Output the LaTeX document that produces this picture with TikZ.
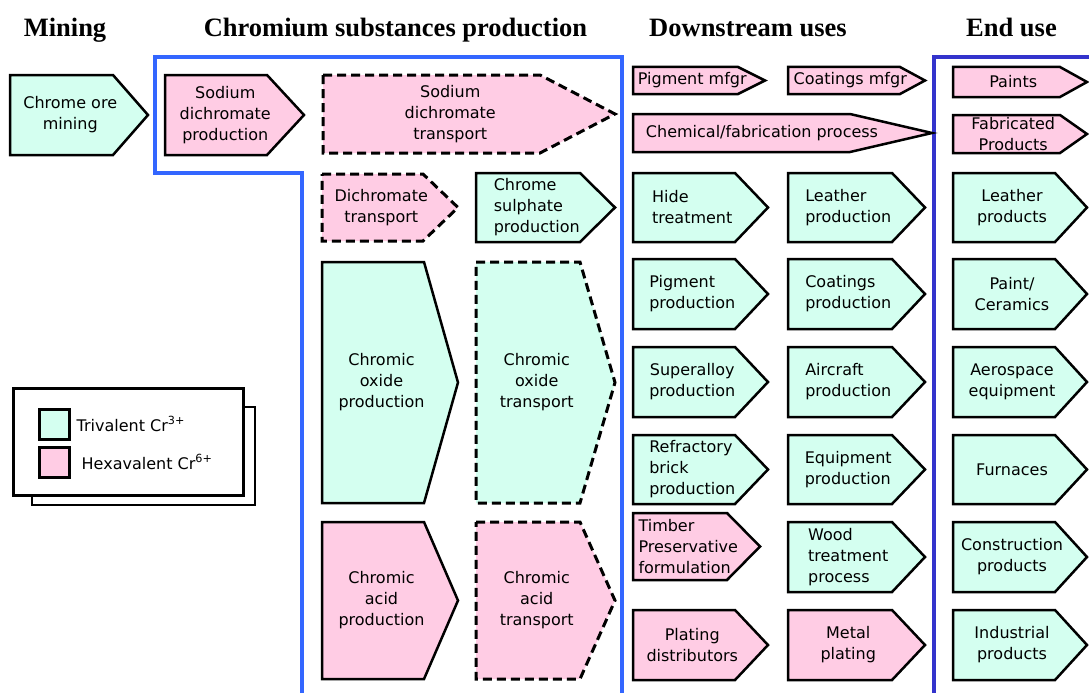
\documentclass[tikz,border=0pt]{standalone}
\usepackage{fontspec}
\setmainfont{Liberation Serif}
\newfontfamily\boxfont{DejaVu Sans}
\usepackage{tikz}
\usetikzlibrary{positioning}
\definecolor{CrTri}{RGB}{212,255,240}
\definecolor{CrHex}{RGB}{255,204,228}
\definecolor{CrBlue}{RGB}{51,102,255}
\definecolor{CrIndigo}{RGB}{51,51,204}

\begin{document}
\begin{tikzpicture}[
    x=1pt,y=-1pt,
    tri/.style={draw=black, fill=CrTri, line width=2.5pt},
    hexa/.style={draw=black, fill=CrHex, line width=2.5pt},
    trid/.style={tri, dash pattern=on 9pt off 5pt, line width=3pt},
    hexd/.style={hexa, dash pattern=on 9pt off 5pt, line width=3pt},
    lbl/.style={font=\boxfont\fontsize{16}{21}\selectfont, inner sep=0pt},
    head/.style={font=\fontsize{26.5}{30}\selectfont\bfseries, anchor=base, inner sep=0pt},
    frame/.style={line width=3.4pt}
  ]
    \useasboundingbox (0,0) rectangle (1089,693);
    \node[head] (hmine) at (65,37) {Mining};
    \node[head] (hchrom) at (395.5,37) {Chromium substances production};
    \node[head] (hdown) at (748,37) {Downstream uses};
    \node[head] (hend) at (1011.5,37) {End use};
    \draw[frame, CrBlue] (302,693) -- (302,173) -- (155,173) -- (155,57) -- (622,57) -- (622,693);
    \draw[frame, CrIndigo] (934,693) -- (934,57) -- (1089,57);
    \foreach \nm/\lx/\ty/\rx/\px/\by/\st/\al/\lab in {
      mine/10/75/113/148/155/tri/center/{Chrome ore\\mining},
      sdprod/165/75/267/304/155/hexa/center/{Sodium\\dichromate\\production},
      sdtrans/323/75/540/615/153/hexd/center/{Sodium\\dichromate\\transport},
      dtrans/322/174/423/458/241/hexd/center/{Dichromate\\transport},
      csprod/476/173/580/615/242/tri/left/{Chrome\\sulphate\\production},
      coprod/322/262/424/458/503/tri/center/{Chromic\\oxide\\production},
      cotrans/476/262/580/615/503/trid/center/{Chromic\\oxide\\transport},
      caprod/322/522/424/458/679/hexa/center/{Chromic\\acid\\production},
      catrans/476/522/580/615/679/hexd/center/{Chromic\\acid\\transport},
      pigmfg/633/67/738/765/94/hexa/center/{Pigment mfgr},
      coatmfg/788/67/900/925/94/hexa/center/{Coatings mfgr},
      chemfab/633/114/850/932/152/hexa/center/{Chemical/fabrication process},
      paints/953/67/1060/1087/97/hexa/center/{Paints},
      fabprod/953/115/1060/1087/153/hexa/center/{Fabricated\\Products},
      hide/633/173/735/768/242/tri/left/{Hide\\treatment},
      leathprod/788/173/892/925/242/tri/left/{Leather\\production},
      leathgoods/953/173/1055/1087/242/tri/center/{Leather\\products},
      pigprod/633/259/735/768/329/tri/left/{Pigment\\production},
      coatprod/788/259/892/925/329/tri/left/{Coatings\\production},
      paintcer/953/259/1055/1087/329/tri/center/{Paint/\\Ceramics},
      alloy/633/347/735/768/417/tri/center/{Superalloy\\production},
      aircraft/788/347/892/925/417/tri/left/{Aircraft\\production},
      aero/953/347/1055/1087/417/tri/center/{Aerospace\\equipment},
      refract/633/435/735/768/504/tri/left/{Refractory\\brick\\production},
      equip/788/435/892/925/504/tri/left/{Equipment\\production},
      furn/953/435/1055/1087/504/tri/center/{Furnaces},
      timber/633/513/727/760/580/hexa/left/{Timber\\Preservative\\formulation},
      wood/788/522/892/925/592/tri/left/{Wood\\treatment\\process},
      constr/953/522/1055/1087/592/tri/center/{Construction\\products},
      platdist/633/610/735/768/680/hexa/center/{Plating\\distributors},
      metplat/788/610/892/925/680/hexa/center/{Metal\\plating},
      indprod/953/610/1055/1087/680/tri/center/{Industrial\\products}} {
      \draw[\st] (\lx,\ty) -- (\rx,\ty) -- (\px,{(\ty+\by)/2}) -- (\rx,\by) -- (\lx,\by) -- cycle;
      \node[lbl, align=\al] (\nm) at ({\lx/2+\rx/4+\px/4},{(\ty+\by)/2}) {\lab};
    }
    \node[draw, fill=white, line width=1.4pt, minimum width=223pt, minimum height=98pt] (lshadow) at (143.5,456) {};
    \node[draw, fill=white, line width=3pt, minimum width=230pt, minimum height=107pt] (lfront) at (128,441.5) {};
    \node[tri, line width=3pt, minimum size=30pt, inner sep=0pt] (swtri) at (54,424) {};
    \node[hexa, line width=3pt, minimum size=30pt, inner sep=0pt] (swhex) at (54,462) {};
    \node[lbl, right=6pt of swtri] (ltri) {Trivalent Cr\textsuperscript{3+}};
    \node[lbl, right=11pt of swhex] (lhex) {Hexavalent Cr\textsuperscript{6+}};
  \end{tikzpicture}
\end{document}
